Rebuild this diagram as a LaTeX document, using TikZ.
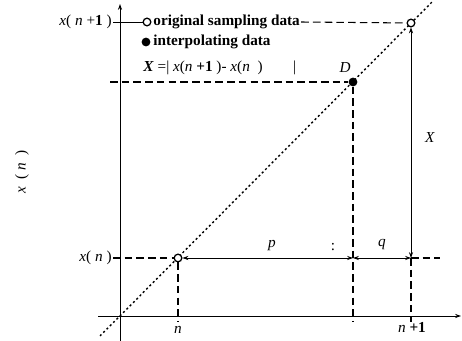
\documentclass[tikz,border=0pt]{standalone}
\usepackage{fontspec}
\setmainfont{Liberation Serif}
\usetikzlibrary{arrows.meta}

\begin{document}
\begin{tikzpicture}[x=0.03cm, y=-0.03cm, >={Stealth[length=5pt,width=3.5pt]},
    guide/.style={line width=0.9pt, dash pattern=on 6.5pt off 3.5pt},
    diag/.style={line width=1.2pt, dash pattern=on 1.8pt off 2.2pt},
    openpt/.style={circle, draw, line width=1.1pt, fill=white, inner sep=0pt, minimum size=6.5pt},
    fullpt/.style={circle, fill, inner sep=0pt, minimum size=7.5pt},
    lbl/.style={font=\fontsize{13}{15}\selectfont, inner sep=1pt},
    key/.style={font=\fontsize{13}{15}\selectfont\bfseries, inner sep=1pt, anchor=west}]
  \useasboundingbox (0,0) rectangle (462,341);
  % axes
  \coordinate (O) at (120,316);
  \coordinate (xend) at (461,316);
  \coordinate (ytop) at (120,4);
  \draw[thick, ->] (98,316) -- (xend);
  \draw[thick, ->] (120,341) -- (ytop);
  % the line x = n
  \coordinate (d0) at (100,336);
  \coordinate (d1) at (432,2);
  \draw[diag] (d0) -- (d1);
  % sample points and interpolated point
  \node[openpt] (A) at (178,258) {};
  \node[openpt] (B) at (411,23) {};
  \node[fullpt] (D) at (353,82) {};
  \coordinate (P) at (353,258);
  \coordinate (Q) at (411,258);
  \coordinate (Qr) at (440,258);
  \coordinate (An) at (178,322);
  \coordinate (Pn) at (353,322);
  \coordinate (Qn) at (411,322);
  \coordinate (Dl) at (110,82);
  % axis labels
  \node[lbl, anchor=east] (xn1) at (113,22) {\textit{x}( \textit{n} +\textbf{1} )};
  \node[lbl, anchor=east] (xn) at (113,258) {\textit{x}( \textit{n} )};
  \node[lbl, rotate=90] (ylab) at (22,172) {\textit{x}\ \ (\ \textit{n}\ \ )};
  \node[lbl] (tn) at (178,330) {\textit{n}};
  \node[lbl] (tn1) at (412,327) {\textit{n} \textbf{+1}};
  % legend
  \node[openpt] (k1) at (147,22) {};
  \node[key] (k1t) at (152,22) {original sampling data};
  \node[fullpt] (k2) at (146,42) {};
  \node[key] (k2t) at (152,42) {interpolating data};
  \node[lbl, anchor=west] (k3) at (142,68)
    {\textbf{\textit{X}} =| \textit{x}(\textit{n} \textbf{+1} )- \textit{x}(\textit{n}\ \ )\qquad|};
  \draw[thick] (xn1.east) -- (k1);
  \draw[guide] (k1t.east) -- (B);
  % guide lines
  \draw[guide] (Dl) -- (D);
  \draw[guide] (xn.east) -- (A);
  \draw[guide] (A) -- (An);
  \draw[guide] (D) -- (Pn);
  \draw[guide] (Q) -- (Qn);
  \draw[guide] (Q) -- (Qr);
  % distances
  \draw[semithick, <->] (A) -- (P);
  \draw[semithick, <->] (P) -- (Q);
  \draw[semithick, <->] (Q) -- (B);
  \node[lbl] (lp) at (272,246) {\textit{p}};
  \node[lbl] (lc) at (333,247) {:};
  \node[lbl] (lq) at (382,245) {\textit{q}};
  \node[lbl] (lX) at (430,138) {\textit{X}};
  \node[lbl] (lD) at (345,68) {\textit{D}};
\end{tikzpicture}
\end{document}
